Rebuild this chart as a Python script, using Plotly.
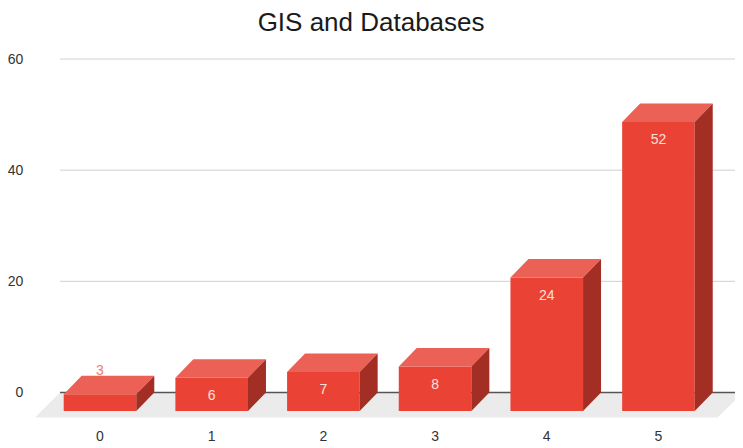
import plotly.graph_objects as go

categories = [0, 1, 2, 3, 4, 5]
values = [3, 6, 7, 8, 24, 52]
y_ticks = [0, 20, 40, 60]
title = "GIS and Databases"

BAR_W = 0.65
DX = 0.161
DY = 3.33
X0, X1 = -0.582, 5.757
Y0, Y1 = -4.95, 61.62
FLOOR_Y = -4.5
GRID_L = -0.358
FLOOR_FL, FLOOR_FR = -0.582, 5.53
LABEL_BELOW = 3.36
LABEL_ABOVE = 0.7

FRONT = "#ea4335"
TOP = "#ec6156"
SIDE = "#a32e23"
LABEL_COLORS = ["#f07a70"] + ["#fde0dc"] * 5

top_x, top_y, side_x, side_y = [], [], [], []
for c, v in zip(categories, values):
    l, r = c - BAR_W / 2, c + BAR_W / 2
    top_x += [l, l + DX, r + DX, r, l, None]
    top_y += [v - DY, v, v, v - DY, v - DY, None]
    side_x += [r, r + DX, r + DX, r, r, None]
    side_y += [-DY, 0, v, v - DY, -DY, None]

fig = go.Figure()
fig.add_trace(go.Bar(x=categories, y=values, base=-DY, width=BAR_W,
                     marker=dict(color=FRONT, line=dict(width=0)), hoverinfo="skip"))
fig.add_trace(go.Scatter(x=top_x, y=top_y, mode="lines", fill="toself", fillcolor=TOP,
                         line=dict(width=0, color=TOP), hoverinfo="skip"))
fig.add_trace(go.Scatter(x=side_x, y=side_y, mode="lines", fill="toself", fillcolor=SIDE,
                         line=dict(width=0, color=SIDE), hoverinfo="skip"))
label_y = [v + LABEL_ABOVE if i == 0 else v - DY - LABEL_BELOW for i, v in enumerate(values)]
fig.add_trace(go.Scatter(x=categories, y=label_y, mode="text",
                         text=[str(v) for v in values],
                         textposition="middle center",
                         textfont=dict(family="Liberation Sans, Arial", size=14, color=LABEL_COLORS),
                         hoverinfo="skip"))

shapes = [dict(type="path", layer="below", xref="x", yref="y", line=dict(width=0),
               fillcolor="#ebebeb",
               path=f"M {FLOOR_FL} {FLOOR_Y} L {GRID_L} 0 L {X1} 0 L {FLOOR_FR} {FLOOR_Y} Z")]
for t in y_ticks:
    shapes.append(dict(type="line", layer="below", xref="x", yref="y", x0=GRID_L, x1=X1, y0=t, y1=t,
                       line=dict(color="#555555" if t == 0 else "#d0d0d0", width=1.5 if t == 0 else 1)))

fig.update_layout(
    width=735, height=440, showlegend=False, paper_bgcolor="white", plot_bgcolor="white",
    margin=dict(l=27, r=0, t=42, b=28), shapes=shapes, autosize=False,
    font=dict(family="Liberation Sans, Arial", color="#333333", size=14),
    title=dict(text=title, x=0.494, xanchor="center", y=0.968, yanchor="middle",
               font=dict(family="Liberation Sans, Arial", size=26, color="#1a1a1a")),
    xaxis=dict(range=[X0, X1], tickmode="array", tickvals=categories, showgrid=False, zeroline=False,
               showline=False, ticks="outside", ticklen=3, tickcolor="rgba(0,0,0,0)"),
    yaxis=dict(range=[Y0, Y1], tickmode="array", tickvals=y_ticks, showgrid=False, zeroline=False,
               showline=False, ticks="outside", ticklen=8, tickcolor="rgba(0,0,0,0)"),
)
fig.write_html("out.html")
